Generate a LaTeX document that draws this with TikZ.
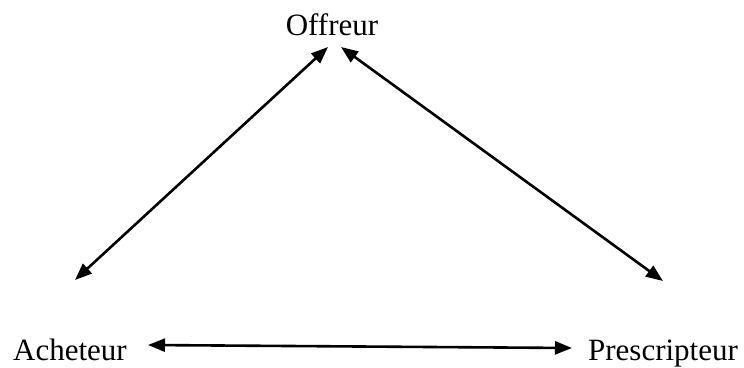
\documentclass[tikz,border=0pt]{standalone}
\usepackage{fontspec}
\setmainfont{Liberation Serif}
\usetikzlibrary{arrows.meta}
\tikzset{
  actor/.style={font=\fontsize{31}{36}\selectfont,inner sep=0pt,anchor=base},
  link/.style={{Triangle[length=17pt,width=13pt]}-{Triangle[length=17pt,width=13pt]},line width=2.6pt},
}
\begin{document}
\begin{tikzpicture}[x=1pt,y=-1pt]
  \useasboundingbox (0,0) rectangle (744,367);
  \node[actor] (off) at (332,35) {Offreur};
  \node[actor] (ach) at (70,360) {Acheteur};
  \node[actor] (pre) at (663,360) {Prescripteur};
  % arrow ends
  \coordinate (offL) at (328,47);
  \coordinate (offR) at (341,47);
  \coordinate (achT) at (75,280);
  \coordinate (achR) at (148,345);
  \coordinate (preT) at (663,281);
  \coordinate (preL) at (572,348);
  \draw[link] (offL) -- (achT);
  \draw[link] (offR) -- (preT);
  \draw[link] (achR) -- (preL);
\end{tikzpicture}
\end{document}
